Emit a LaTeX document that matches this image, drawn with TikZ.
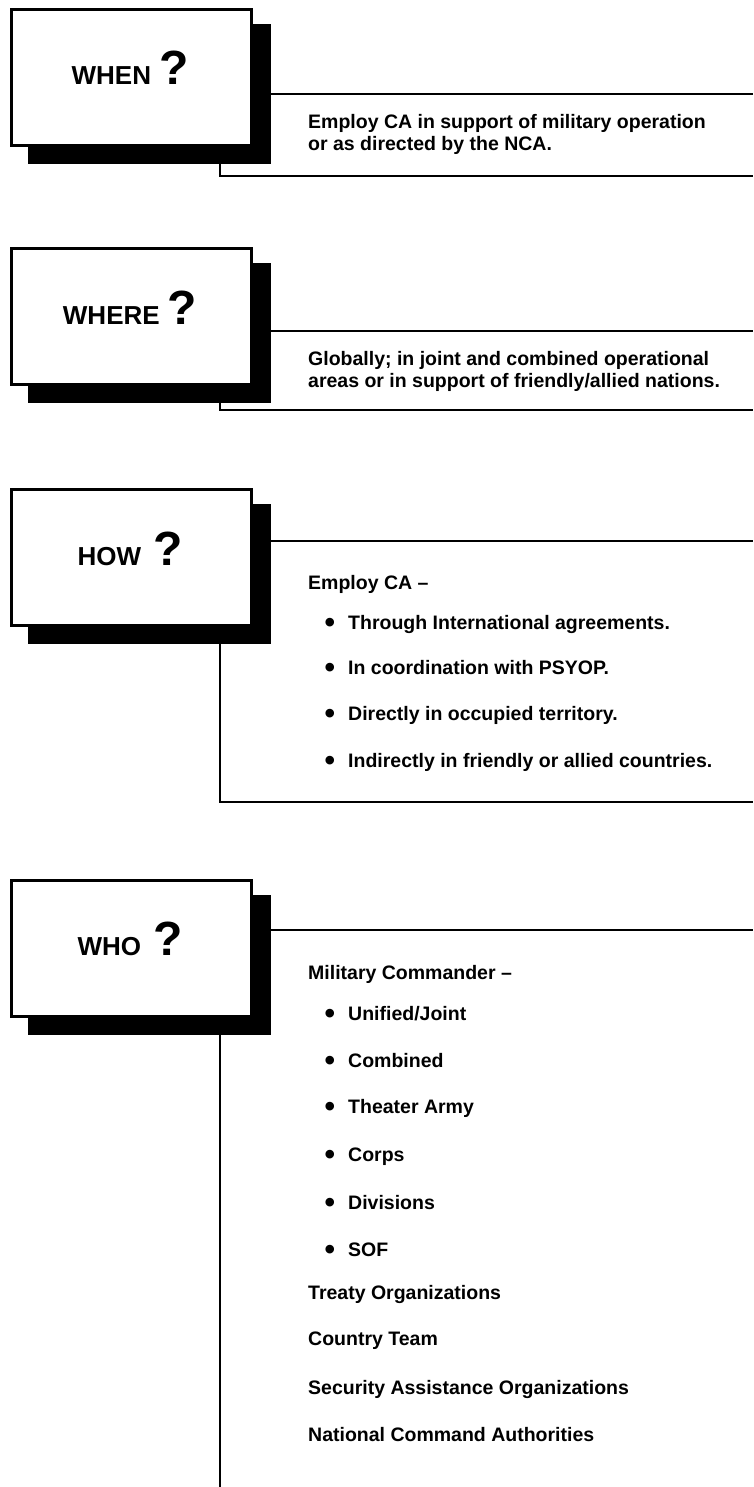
\documentclass[tikz,border=0pt]{standalone}
\usepackage{fontspec}
\setmainfont{Liberation Sans}
\usetikzlibrary{positioning}

\newcommand{\qmark}{{\fontsize{48}{48}\selectfont ?}}
\newcommand{\dotitem}{\llap{\raisebox{-3.5pt}{\fontsize{30}{30}\selectfont •}\hspace{13pt}}}

\tikzset{
  qshadow/.style={fill=black, minimum width=243pt, minimum height=140pt, inner sep=0pt, anchor=north west},
  qbox/.style={draw, line width=3pt, fill=white, minimum width=240pt, minimum height=136pt, inner sep=0pt, anchor=north west},
  qtitle/.style={font=\fontsize{26}{26}\selectfont\bfseries, anchor=base, inner sep=0pt},
  panel/.style={line width=2.8pt},
  infotext/.style={font=\fontsize{19.5}{22}\selectfont\bfseries, anchor=west, inner sep=0pt, align=left},
  infoline/.style={font=\fontsize{19.5}{22}\selectfont\bfseries, anchor=base west, inner sep=0pt},
}

\begin{document}
\begin{tikzpicture}[x=1pt, y=-1pt]
  \useasboundingbox (0,0) rectangle (753,1487);

  % WHEN panel
  \node[qshadow] (whenshadow) at (28,24) {};
  \node[qbox] (whenbox) at (10,8) {};
  \node[qtitle] (whentitle) at (130,85) {WHEN\hspace{8pt}\qmark};
  \coordinate (whenend) at (753,94);
  \coordinate (whencorner) at (220,176);
  \coordinate (whenfoot) at (753,176);
  \draw[panel] (whenshadow.east |- whenend) -- (whenend);
  \draw[panel] (whenshadow.south -| whencorner) -- (whencorner) -- (whenfoot);
  \node[infotext] (whentext) at (308,134) {Employ CA in support of military operation\\or as directed by the NCA.};

  % WHERE panel
  \node[qshadow] (whereshadow) at (28,263) {};
  \node[qbox] (wherebox) at (10,247) {};
  \node[qtitle] (wheretitle) at (130,324) {WHERE\hspace{8pt}\qmark};
  \coordinate (whereend) at (753,331);
  \coordinate (wherecorner) at (220,410);
  \coordinate (wherefoot) at (753,410);
  \draw[panel] (whereshadow.east |- whereend) -- (whereend);
  \draw[panel] (whereshadow.south -| wherecorner) -- (wherecorner) -- (wherefoot);
  \node[infotext] (wheretext) at (308,371) {Globally; in joint and combined operational\\areas or in support of friendly/allied nations.};

  % HOW panel
  \node[qshadow] (howshadow) at (28,504) {};
  \node[qbox] (howbox) at (10,488) {};
  \node[qtitle] (howtitle) at (130,565) {HOW\hspace{12pt}\qmark};
  \coordinate (howend) at (753,541);
  \coordinate (howcorner) at (220,802);
  \coordinate (howfoot) at (753,802);
  \draw[panel] (howshadow.east |- howend) -- (howend);
  \draw[panel] (howshadow.south -| howcorner) -- (howcorner) -- (howfoot);
  \node[infoline] (howlead) at (308,589) {Employ CA --};
  \node[infoline] (howa) at (348,629) {\dotitem Through International agreements.};
  \node[infoline] (howb) at (348,674) {\dotitem In coordination with PSYOP.};
  \node[infoline] (howc) at (348,720) {\dotitem Directly in occupied territory.};
  \node[infoline] (howd) at (348,767) {\dotitem Indirectly in friendly or allied countries.};

  % WHO panel
  \node[qshadow] (whoshadow) at (28,895) {};
  \node[qbox] (whobox) at (10,879) {};
  \node[qtitle] (whotitle) at (130,955) {WHO\hspace{12pt}\qmark};
  \coordinate (whoend) at (753,930);
  \coordinate (whofoot) at (220,1487);
  \draw[panel] (whoshadow.east |- whoend) -- (whoend);
  \draw[panel] (whoshadow.south -| whofoot) -- (whofoot);
  \node[infoline] (wholead) at (308,979) {Military Commander --};
  \node[infoline] (whoa) at (348,1020) {\dotitem Unified/Joint};
  \node[infoline] (whob) at (348,1067) {\dotitem Combined};
  \node[infoline] (whoc) at (348,1113) {\dotitem Theater Army};
  \node[infoline] (whod) at (348,1161) {\dotitem Corps};
  \node[infoline] (whoe) at (348,1209) {\dotitem Divisions};
  \node[infoline] (whof) at (348,1256) {\dotitem SOF};
  \node[infoline] (whotreaty) at (308,1299) {Treaty Organizations};
  \node[infoline] (whoteam) at (308,1345) {Country Team};
  \node[infoline] (whosao) at (308,1394) {Security Assistance Organizations};
  \node[infoline] (whonca) at (308,1441) {National Command Authorities};
\end{tikzpicture}
\end{document}
